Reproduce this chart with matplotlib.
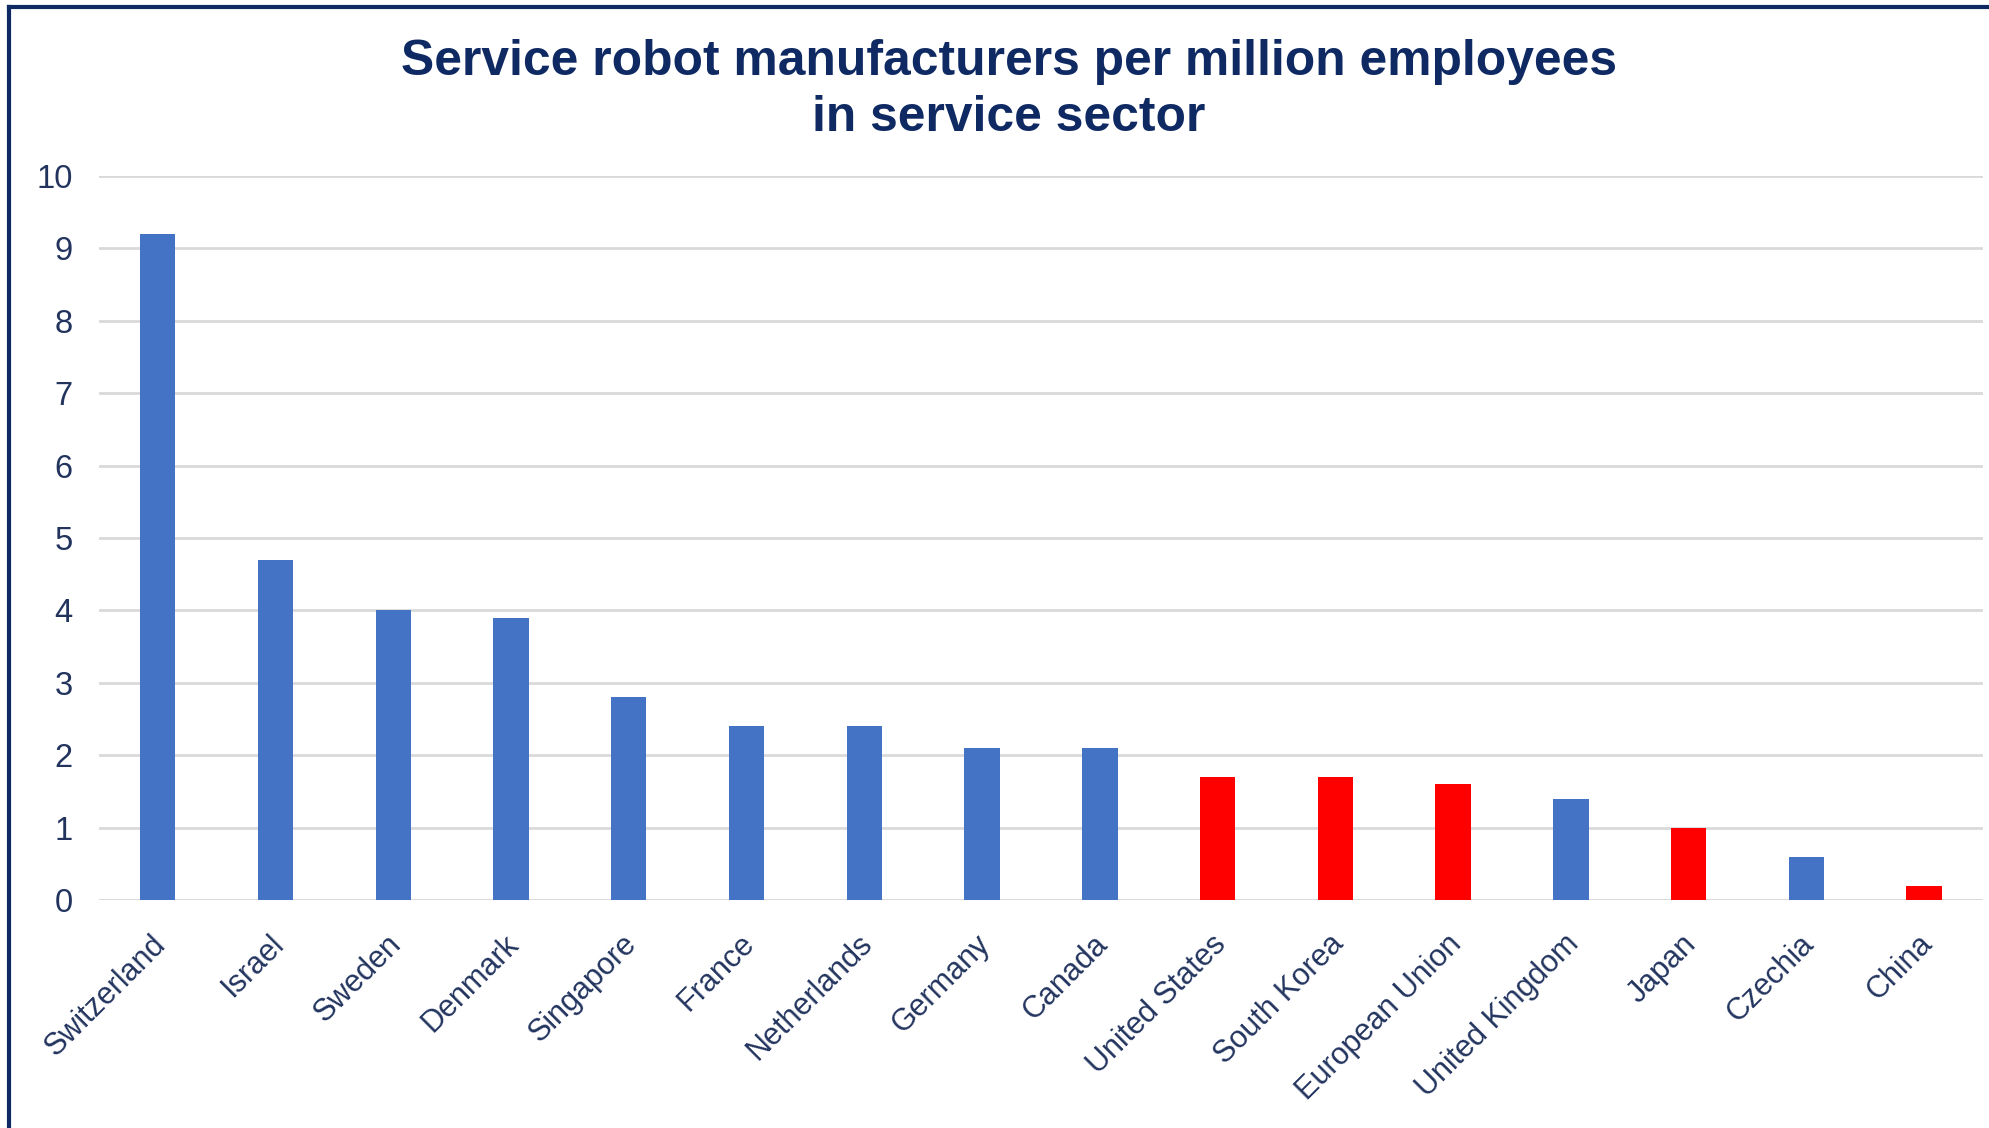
import matplotlib.pyplot as plt
from matplotlib.lines import Line2D
from matplotlib.transforms import ScaledTranslation

# Service robot makers per million service-sector employees
countries = ['Switzerland', 'Israel', 'Sweden', 'Denmark', 'Singapore', 'France',
             'Netherlands', 'Germany', 'Canada', 'United States', 'South Korea',
             'European Union', 'United Kingdom', 'Japan', 'Czechia', 'China']
values = [9.2, 4.7, 4.0, 3.9, 2.8, 2.4, 2.4, 2.1, 2.1, 1.7, 1.7, 1.6, 1.4, 1.0, 0.6, 0.2]
highlighted = ['United States', 'South Korea', 'European Union', 'Japan', 'China']

BLUE = '#4472C4'
RED = '#FF0000'
NAVY = '#0f2a63'
LABEL = '#22345e'
GRID = '#d9d9d9'

plt.rcParams['font.family'] = ['Liberation Sans', 'DejaVu Sans']

fig = plt.figure(figsize=(19.9, 11.28), dpi=100)
ax = fig.add_axes([0.0497, 0.202, 0.9468, 0.642])

colors = [RED if c in highlighted else BLUE for c in countries]
x = range(len(countries))
ax.bar(x, values, width=0.3, color=colors, zorder=3)

ax.set_xlim(-0.5, len(countries) - 0.5)
ax.set_ylim(0, 10)
ax.set_yticks(range(0, 11))
ax.yaxis.grid(True, color=GRID, linewidth=2, zorder=0)
ax.axhline(0, color=GRID, linewidth=2, zorder=2)
for s in ax.spines.values():
    s.set_visible(False)
ax.tick_params(axis='both', length=0, labelsize=23.5, labelcolor=LABEL)
ax.tick_params(axis='y', pad=19)

ax.set_xticks(list(x))
ax.set_xticklabels(countries, rotation=45, ha='right', va='top', rotation_mode='anchor')
shift = ScaledTranslation(-0.07, -0.24, fig.dpi_scale_trans)
for lbl in ax.get_xticklabels():
    lbl.set_fontsize(22)
    lbl.set_transform(lbl.get_transform() + shift)

fig.text(0.507, 0.92, 'Service robot manufacturers per million employees\nin service sector',
         ha='center', va='center', fontsize=35.8, fontweight='bold', color=NAVY,
         linespacing=1.29)

# frame on the left and top edges
fig.add_artist(Line2D([0.0045, 0.0045], [0, 0.994], color=NAVY, linewidth=3,
                      transform=fig.transFigure))
fig.add_artist(Line2D([0.0045, 1], [0.994, 0.994], color=NAVY, linewidth=3,
                      transform=fig.transFigure))

fig.savefig('out.png', dpi=100, facecolor='white')
